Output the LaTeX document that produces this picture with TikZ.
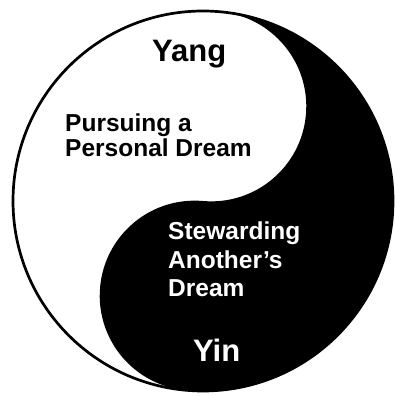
\documentclass[tikz,border=0pt]{standalone}
\usepackage{fontspec}
\setmainfont{Liberation Sans}
\begin{document}
\begin{tikzpicture}[x=1pt,y=1pt,
  lbl/.style={inner sep=0pt, anchor=base west, font=\bfseries\fontsize{24.5}{28}\selectfont},
  big/.style={inner sep=0pt, anchor=base west, font=\bfseries\fontsize{31}{34}\selectfont},
  onblack/.style={text=white}]
\useasboundingbox[fill=white] (-203,-195) rectangle (192,201);
\begin{scope}[rotate=-5]
  \fill[black] (0,190) arc[start angle=90,end angle=-90,radius=190pt]
    arc[start angle=-90,end angle=-270,radius=95pt]
    arc[start angle=-90,end angle=90,radius=95pt] -- cycle;
\end{scope}
\draw[line width=2.7pt] (0,0) circle[radius=190pt];
\node[big] (yang) at (-51,139) {Yang};
\node[lbl] (pur1) at (-138,69) {Pursuing a};
\node[lbl] (pur2) at (-138,44) {Personal Dream};
\node[lbl,onblack] (st1) at (-35,-39) {Stewarding};
\node[lbl,onblack] (st2) at (-35,-67) {Another’s};
\node[lbl,onblack] (st3) at (-35,-95) {Dream};
\node[big,onblack] (yin) at (-10,-160) {Yin};
\end{tikzpicture}
\end{document}
